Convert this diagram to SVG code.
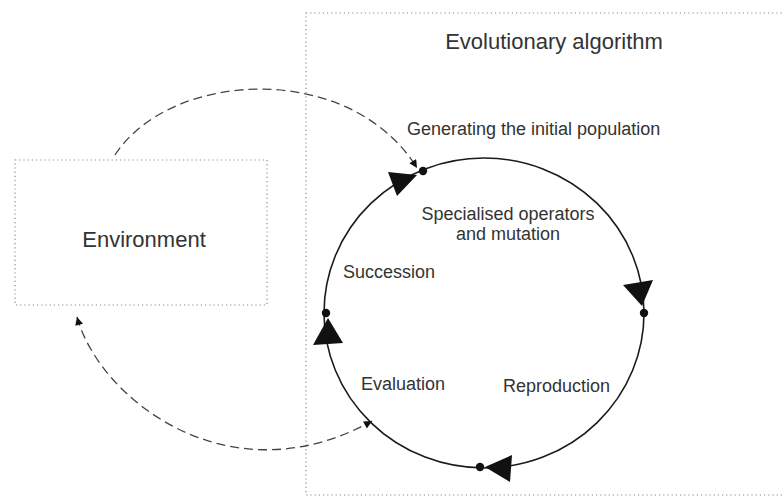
<svg xmlns="http://www.w3.org/2000/svg" width="784" height="499" viewBox="0 0 784 499">
<defs>
<style>
.box{fill:none;stroke:#8a8a8a;stroke-width:1.2;stroke-dasharray:1.2,3}
.cyc{fill:none;stroke:#1a1a1a;stroke-width:1.6}
.dash{fill:none;stroke:#444;stroke-width:1.3;stroke-dasharray:9,5}
.tri{fill:#111}
.dot{fill:#111}
text{font-family:"Liberation Sans",Arial,sans-serif;fill:#333}
.big{font-size:22px}
.lbl{font-size:18px}
</style>
<marker id="ah" viewBox="0 0 10 10" refX="10" refY="5" markerWidth="9" markerHeight="8" markerUnits="userSpaceOnUse" orient="auto-start-reverse">
<path d="M0,0 L10,5 L0,10 z" fill="#111"/>
</marker>
</defs>
<g id="algorithm">
<rect class="box" x="306" y="13" width="480" height="482"/>
<text class="big" x="554" y="49" text-anchor="middle">Evolutionary algorithm</text>
</g>
<g id="environment">
<rect class="box" x="15" y="160" width="252" height="145"/>
<text class="big" x="144" y="247" text-anchor="middle">Environment</text>
</g>
<g id="cycle">
<ellipse class="cyc" cx="484" cy="313" rx="160" ry="155"/>
</g>
<g id="connectors">
<path class="dash" d="M115,155 C170,70 350,60 417,168" marker-end="url(#ah)"/>
<path class="dash" d="M77,317 C100,400 230,500 372,421" marker-start="url(#ah)" marker-end="url(#ah)"/>
</g>
<g id="arrowheads">
<polygon class="tri" points="388,172 397,196 417,175"/>
<polygon class="tri" points="623,285 653,280 642,306"/>
<polygon class="tri" points="485,467 512,455 510,482"/>
<polygon class="tri" points="328,318 313,345 343,343"/>
</g>
<g id="generating">
<circle class="dot" cx="423" cy="171" r="4.2"/>
<text class="lbl" x="407" y="135">Generating the initial population</text>
</g>
<g id="operators">
<circle class="dot" cx="644" cy="313" r="4.2"/>
<text class="lbl" x="508" y="220" text-anchor="middle">Specialised operators</text>
<text class="lbl" x="508" y="240" text-anchor="middle">and mutation</text>
</g>
<g id="reproduction">
<circle class="dot" cx="480" cy="467" r="4.2"/>
<text class="lbl" x="503" y="392">Reproduction</text>
</g>
<g id="evaluation">
<text class="lbl" x="361" y="390">Evaluation</text>
</g>
<g id="succession">
<circle class="dot" cx="326" cy="313" r="4.2"/>
<text class="lbl" x="343" y="278">Succession</text>
</g>
</svg>
